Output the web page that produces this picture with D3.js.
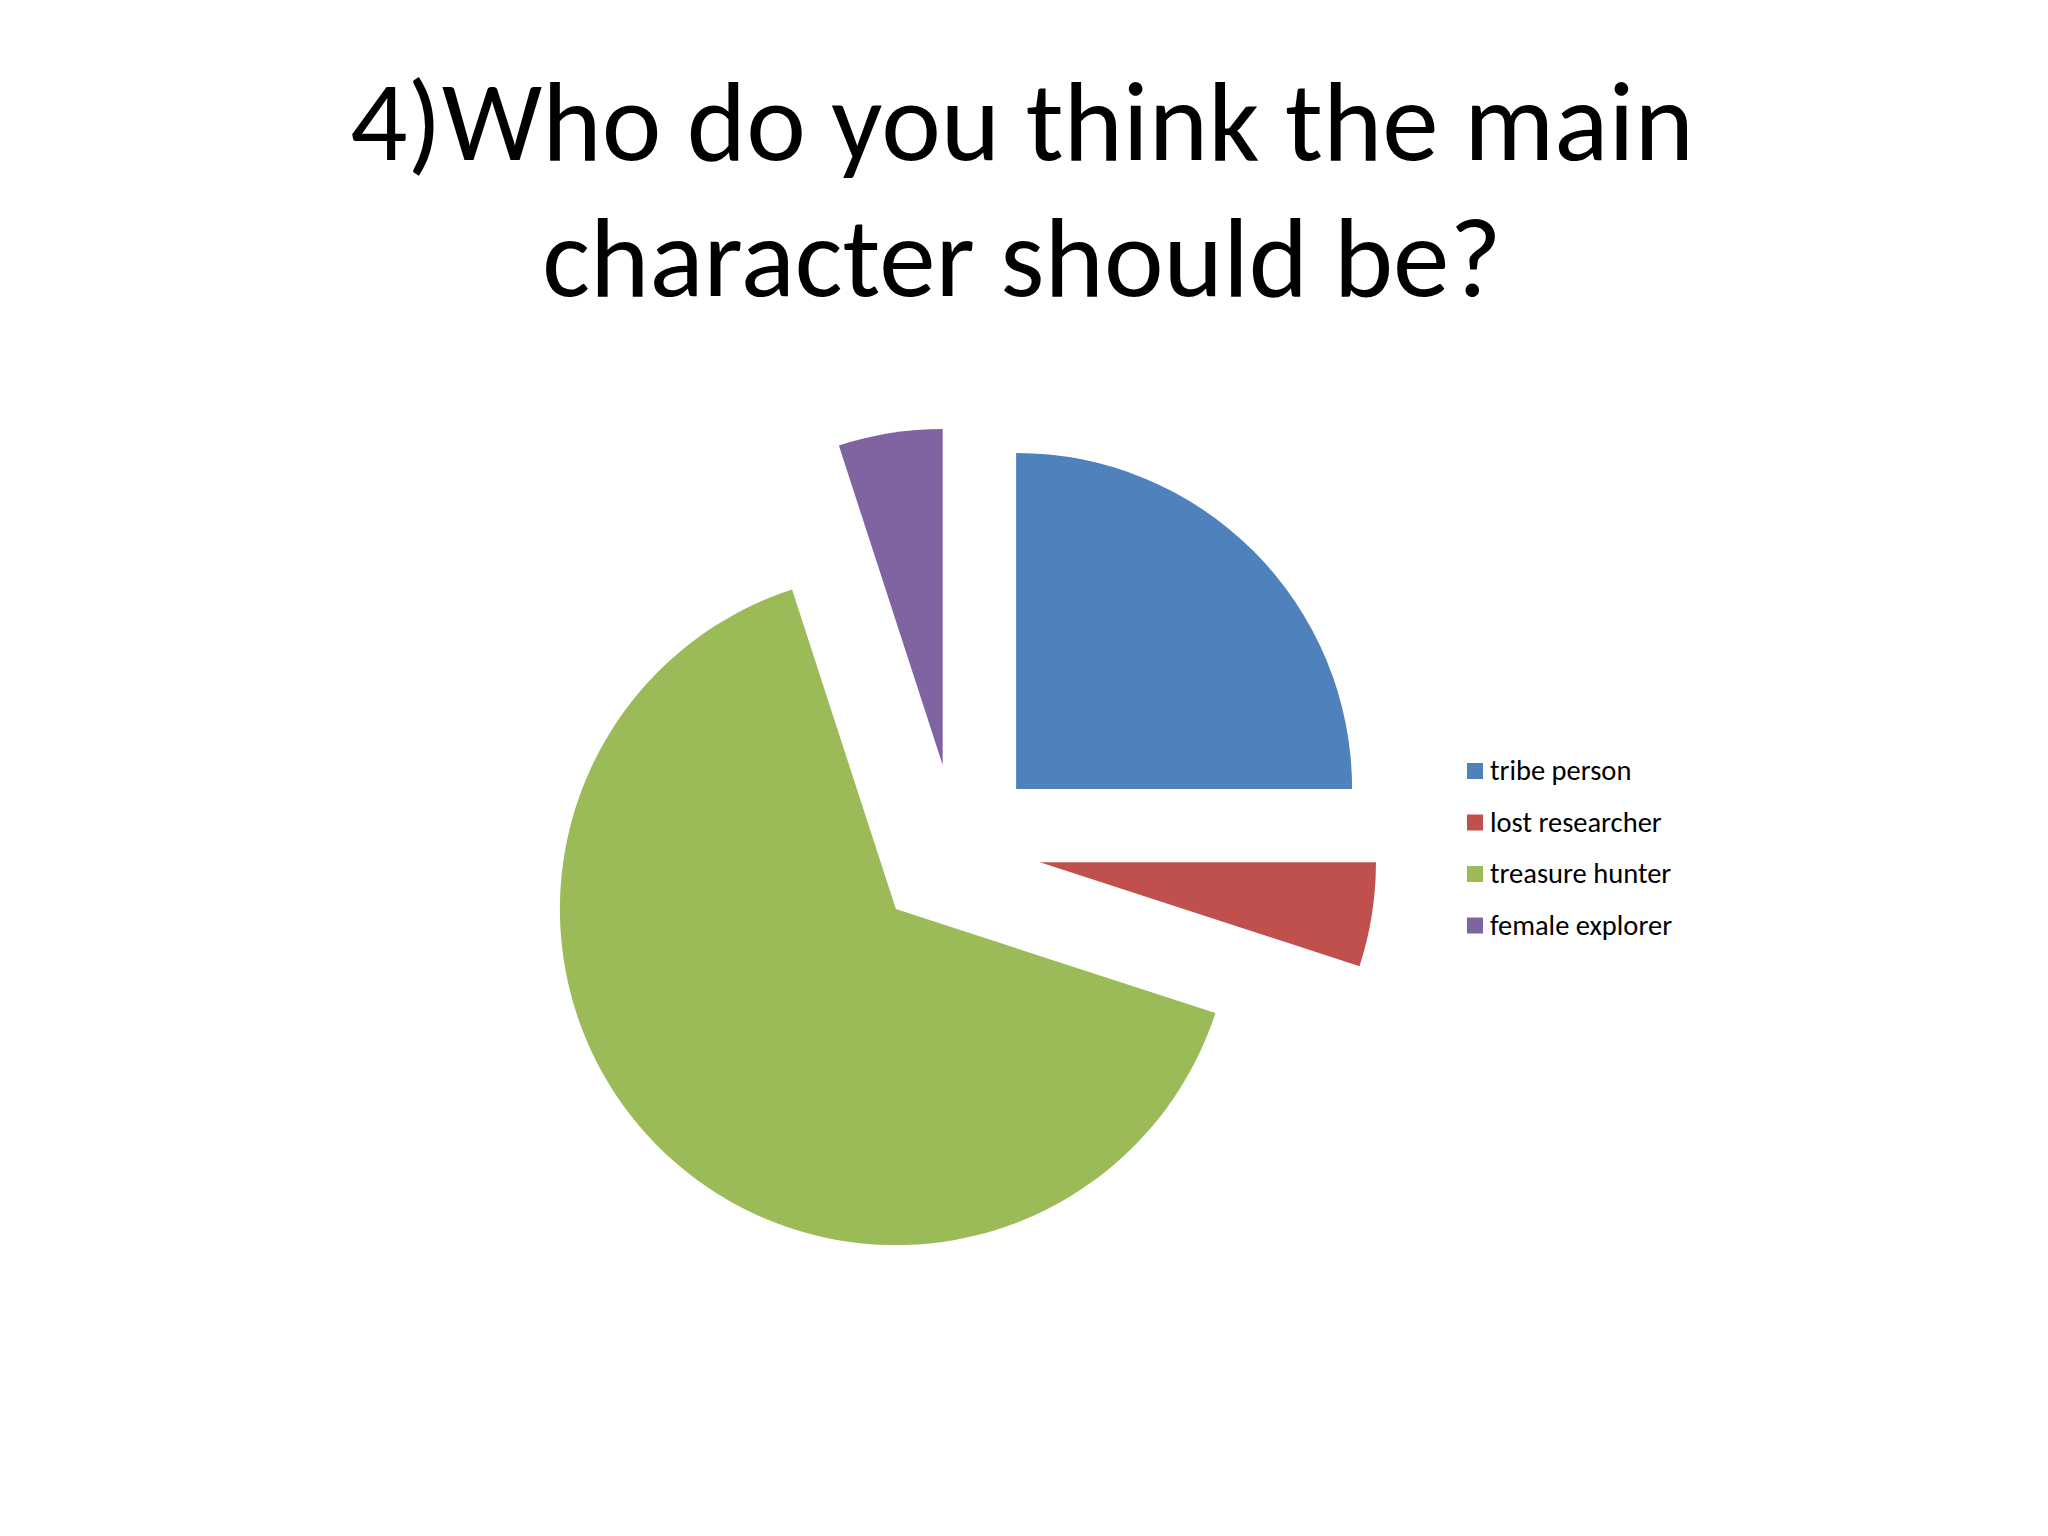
<!DOCTYPE html>
<html>
<head>
<meta charset="utf-8">
<script src="https://cdn.jsdelivr.net/npm/d3@7"></script>
<style>
  body { margin: 0; background: #fff; }
  text { font-family: Carlito, Calibri, Lato, "Open Sans", sans-serif; fill: #000; }
</style>
</head>
<body>
<div id="chart"></div>
<script>
// data
var categories = ["tribe person", "lost researcher", "treasure hunter", "female explorer"];
var values = [25, 5, 65, 5]; // percent
var colors = ["#4F81BD", "#C0504D", "#9BBB59", "#8064A2"];
var titleLines = ["4)Who do you think the main", "character should be?"];

var width = 2048;
var height = 1536;

var svg = d3.select("#chart")
    .append("svg")
    .attr("width", width)
    .attr("height", height);

// title
svg.append("g")
    .attr("class", "title")
    .selectAll("text")
    .data(titleLines)
    .enter()
    .append("text")
    .attr("x", 1022)
    .attr("y", function(d, i) { return 160 + i * 136; })
    .attr("text-anchor", "middle")
    .attr("font-size", 113)
    .text(function(d) { return d; });

// pie
var cx = 956, cy = 849;
var radius = 336;
var explode = 85; // every slice pulled out by same amount

var pie = d3.pie().sort(null).value(function(d) { return d; });
var arc = d3.arc().innerRadius(0).outerRadius(radius);

var slices = svg.append("g")
    .attr("transform", "translate(" + cx + "," + cy + ")")
    .selectAll("path")
    .data(pie(values))
    .enter()
    .append("path")
    .attr("d", arc)
    .attr("fill", function(d, i) { return colors[i]; })
    .attr("transform", function(d) {
        var mid = (d.startAngle + d.endAngle) / 2;
        return "translate(" + (Math.sin(mid) * explode) + "," + (-Math.cos(mid) * explode) + ")";
    });

// legend
var legend = svg.append("g")
    .attr("transform", "translate(1467, 771)");

var item = legend.selectAll("g")
    .data(categories)
    .enter()
    .append("g")
    .attr("transform", function(d, i) { return "translate(0," + (i * 51.5) + ")"; });

item.append("rect")
    .attr("x", 0)
    .attr("y", -8)
    .attr("width", 16)
    .attr("height", 16)
    .attr("fill", function(d, i) { return colors[i]; });

item.append("text")
    .attr("x", 23)
    .attr("y", 9)
    .attr("font-size", 28.5)
    .text(function(d) { return d; });
</script>
</body>
</html>
